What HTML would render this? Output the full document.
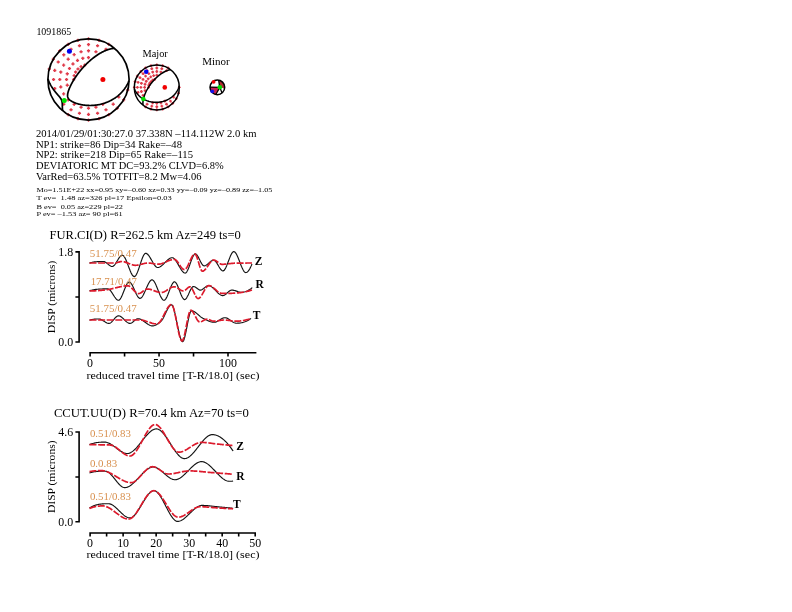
<!DOCTYPE html>
<html><head><meta charset="utf-8"><title>mtinv</title>
<style>
html,body{margin:0;padding:0;background:#fff;}
body{width:792px;height:612px;overflow:hidden;}
svg{position:absolute;left:0;top:0;display:block;will-change:transform;}
text{font-family:"Liberation Serif", serif;}
</style></head><body>
<svg width="792" height="612" viewBox="0 0 792 612">
<text x="36.40" y="34.60" font-size="11.00" fill="#000" font-weight="normal" text-anchor="start" textLength="34.80" lengthAdjust="spacingAndGlyphs">1091865</text>
<text x="142.50" y="56.50" font-size="9.80" fill="#000" font-weight="normal" text-anchor="start" textLength="25.30" lengthAdjust="spacingAndGlyphs">Major</text>
<text x="202.20" y="65.00" font-size="9.60" fill="#000" font-weight="normal" text-anchor="start" textLength="27.50" lengthAdjust="spacingAndGlyphs">Minor</text>
<circle cx="88.50" cy="79.50" r="40.60" fill="#fff" stroke="none"/>
<path d="M72.04 79.50h3.20M73.64 77.90v3.20M72.55 75.65h3.20M74.15 74.05v3.20M74.03 72.07h3.20M75.63 70.47v3.20M76.39 68.99h3.20M77.99 67.39v3.20M79.47 66.63h3.20M81.07 65.03v3.20M83.05 65.15h3.20M84.65 63.55v3.20M86.90 57.53h3.20M88.50 55.93v3.20M65.68 85.19h3.20M67.28 83.59v3.20M64.93 79.50h3.20M66.53 77.90v3.20M65.68 73.81h3.20M67.28 72.21v3.20M67.87 68.51h3.20M69.47 66.91v3.20M71.36 63.96h3.20M72.96 62.36v3.20M75.91 60.47h3.20M77.51 58.87v3.20M81.21 58.28h3.20M82.81 56.68v3.20M86.90 50.79h3.20M88.50 49.19v3.20M94.33 51.77h3.20M95.93 50.17v3.20M101.25 104.36h3.20M102.85 102.76v3.20M94.33 107.23h3.20M95.93 105.63v3.20M86.90 108.21h3.20M88.50 106.61v3.20M79.47 107.23h3.20M81.07 105.63v3.20M72.55 104.36h3.20M74.15 102.76v3.20M66.60 99.80h3.20M68.20 98.20v3.20M62.04 93.85h3.20M63.64 92.25v3.20M59.17 86.93h3.20M60.77 85.33v3.20M58.19 79.50h3.20M59.79 77.90v3.20M59.17 72.07h3.20M60.77 70.47v3.20M62.04 65.15h3.20M63.64 63.55v3.20M66.60 59.20h3.20M68.20 57.60v3.20M72.55 54.64h3.20M74.15 53.04v3.20M79.47 51.77h3.20M81.07 50.17v3.20M86.90 44.55h3.20M88.50 42.95v3.20M95.95 45.74h3.20M97.55 44.14v3.20M104.38 49.23h3.20M105.98 47.63v3.20M117.17 96.98h3.20M118.77 95.38v3.20M111.62 104.22h3.20M113.22 102.62v3.20M104.38 109.77h3.20M105.98 108.17v3.20M95.95 113.26h3.20M97.55 111.66v3.20M86.90 114.45h3.20M88.50 112.85v3.20M77.85 113.26h3.20M79.45 111.66v3.20M69.42 109.77h3.20M71.02 108.17v3.20M62.18 104.22h3.20M63.78 102.62v3.20M53.14 88.55h3.20M54.74 86.95v3.20M51.95 79.50h3.20M53.55 77.90v3.20M53.14 70.45h3.20M54.74 68.85v3.20M56.63 62.02h3.20M58.23 60.42v3.20M62.18 54.78h3.20M63.78 53.18v3.20M69.42 49.23h3.20M71.02 47.63v3.20M77.85 45.74h3.20M79.45 44.14v3.20M86.90 38.90h3.20M88.50 37.30v3.20M97.41 40.28h3.20M99.01 38.68v3.20M107.20 44.34h3.20M108.80 42.74v3.20M126.12 90.01h3.20M127.72 88.41v3.20M122.06 99.80h3.20M123.66 98.20v3.20M115.61 108.21h3.20M117.21 106.61v3.20M107.20 114.66h3.20M108.80 113.06v3.20M97.41 118.72h3.20M99.01 117.12v3.20M86.90 120.10h3.20M88.50 118.50v3.20M76.39 118.72h3.20M77.99 117.12v3.20M66.60 114.66h3.20M68.20 113.06v3.20M47.68 68.99h3.20M49.28 67.39v3.20M51.74 59.20h3.20M53.34 57.60v3.20M58.19 50.79h3.20M59.79 49.19v3.20M66.60 44.34h3.20M68.20 42.74v3.20M76.39 40.28h3.20M77.99 38.68v3.20" stroke="#e03a4a" stroke-width="1.4" fill="none"/>
<path d="M114.36 48.24 L113.88 48.30 L113.27 48.38 L112.83 48.44 L112.25 48.54 L111.70 48.64 L111.24 48.74 L110.77 48.85 L110.22 48.98 L109.81 49.09 L109.24 49.25 L108.80 49.38 L108.39 49.51 L107.95 49.66 L107.38 49.86 L106.97 50.00 L106.57 50.15 L106.16 50.31 L105.75 50.48 L105.28 50.67 L104.81 50.88 L104.36 51.08 L103.93 51.28 L103.52 51.47 L103.12 51.67 L102.71 51.87 L102.30 52.07 L101.90 52.29 L101.50 52.50 L101.12 52.70 L100.76 52.91 L100.40 53.11 L100.05 53.31 L99.67 53.54 L99.26 53.78 L98.85 54.03 L98.45 54.28 L98.06 54.53 L97.75 54.73 L97.43 54.94 L97.03 55.21 L96.62 55.48 L96.23 55.75 L95.94 55.95 L95.61 56.19 L95.20 56.48 L94.81 56.76 L94.54 56.97 L94.18 57.23 L93.78 57.54 L93.47 57.78 L93.17 58.01 L92.76 58.33 L92.44 58.59 L92.15 58.82 L91.75 59.15 L91.45 59.40 L91.14 59.66 L90.73 60.01 L90.49 60.22 L90.12 60.53 L89.79 60.82 L89.52 61.07 L89.11 61.43 L88.89 61.64 L88.50 61.99 L88.23 62.25 L87.89 62.56 L87.58 62.85 L87.28 63.14 L86.95 63.46 L86.67 63.74 L86.33 64.07 L86.06 64.34 L85.73 64.68 L85.45 64.96 L85.13 65.29 L84.85 65.59 L84.55 65.90 L84.24 66.23 L83.98 66.51 L83.63 66.89 L83.42 67.12 L83.05 67.52 L82.82 67.79 L82.51 68.13 L82.21 68.48 L81.98 68.74 L81.63 69.15 L81.39 69.42 L81.11 69.76 L80.79 70.15 L80.58 70.39 L80.27 70.77 L79.97 71.14 L79.77 71.39 L79.46 71.79 L79.16 72.16 L78.96 72.42 L78.67 72.80 L78.36 73.21 L78.15 73.49 L77.90 73.82 L77.60 74.22 L77.33 74.59 L77.13 74.87 L76.87 75.24 L76.58 75.64 L76.32 76.01 L76.12 76.31 L75.88 76.66 L75.60 77.06 L75.33 77.47 L75.10 77.82 L74.90 78.13 L74.67 78.48 L74.41 78.89 L74.15 79.30 L73.90 79.70 L73.68 80.06 L73.48 80.39 L73.28 80.73 L73.04 81.12 L72.81 81.53 L72.57 81.94 L72.34 82.34 L72.12 82.75 L71.90 83.15 L71.68 83.56 L71.46 83.97 L71.25 84.37 L71.04 84.78 L70.84 85.18 L70.64 85.59 L70.45 86.00 L70.25 86.40 L70.07 86.81 L69.88 87.21 L69.70 87.62 L69.53 88.03 L69.36 88.43 L69.20 88.84 L69.01 89.31 L68.81 89.85 L68.66 90.26 L68.52 90.67 L68.39 91.07 L68.21 91.68 L68.09 92.09 L67.99 92.49 L67.84 93.10 L67.76 93.51 L67.66 94.12 L67.60 94.72 L67.57 95.13 L67.58 95.74 L67.61 96.15 L67.70 96.75 L67.81 97.16 L68.00 97.68 L68.20 98.10 L68.40 98.44 L68.64 98.78 L68.98 99.19 L69.22 99.44 L69.60 99.80 L69.83 100.00 L70.23 100.32 L70.64 100.61 L70.94 100.81 L71.26 101.02 L71.65 101.25 L72.06 101.48 L72.46 101.70 L72.87 101.91 L73.28 102.10 L73.68 102.29 L74.09 102.47 L74.50 102.64 L75.00 102.84 L75.51 103.04 L75.91 103.18 L76.32 103.33 L76.73 103.46 L77.33 103.66 L77.74 103.78 L78.15 103.90 L78.76 104.06 L79.16 104.17 L79.57 104.27 L80.18 104.41 L80.58 104.50 L81.19 104.63 L81.60 104.71 L82.21 104.82 L82.61 104.89 L83.22 104.99 L83.83 105.07 L84.24 105.13 L84.85 105.20 L85.45 105.26 L85.86 105.30 L86.47 105.35 L87.08 105.40 L87.69 105.43 L88.30 105.46 L88.91 105.47 L89.47 105.48 L89.92 105.49 L90.45 105.48 L90.94 105.48 L91.55 105.46 L92.15 105.43 L92.76 105.40 L93.37 105.36 L93.98 105.31 L94.39 105.28 L95.00 105.21 L95.61 105.14 L96.10 105.08 L96.62 105.01 L97.23 104.91 L97.64 104.85 L98.24 104.74 L98.65 104.67 L99.26 104.55 L99.67 104.46 L100.27 104.33 L100.68 104.23 L101.29 104.08 L101.69 103.98 L102.13 103.86 L102.71 103.70 L103.12 103.58 L103.53 103.45 L104.13 103.26 L104.54 103.13 L104.94 102.99 L105.37 102.84 L105.92 102.64 L106.36 102.48 L106.77 102.32 L107.18 102.16 L107.58 101.99 L107.99 101.82 L108.42 101.63 L108.87 101.42 L109.31 101.22 L109.74 101.02 L110.15 100.81 L110.56 100.61 L110.95 100.41 L111.33 100.21 L111.71 100.00 L112.07 99.80 L112.45 99.58 L112.86 99.35 L113.27 99.10 L113.67 98.85 L114.08 98.60 L114.42 98.38 L114.72 98.18 L115.09 97.93 L115.50 97.65 L115.90 97.36 L116.18 97.16 L116.51 96.91 L116.92 96.61 L117.25 96.35 L117.53 96.13 L117.94 95.80 L118.26 95.54 L118.54 95.29 L118.95 94.94 L119.20 94.72 L119.56 94.40 L119.86 94.12 L120.17 93.83 L120.50 93.51 L120.78 93.23 L121.11 92.90 L121.39 92.61 L121.69 92.29 L122.00 91.95 L122.24 91.68 L122.60 91.27 L122.81 91.03 L123.12 90.67 L123.42 90.30 L123.62 90.05 L123.93 89.65 L124.23 89.26 L124.43 88.99 L124.69 88.64 L124.97 88.23 L125.24 87.84 L125.45 87.53 L125.66 87.21 L125.91 86.81 L126.17 86.40 L126.41 86.00 L126.65 85.59 L126.87 85.20 L127.07 84.83 L127.27 84.45 L127.48 84.06 L127.68 83.66 L127.88 83.24 L128.09 82.81 L128.29 82.36 L128.47 81.94 L128.64 81.53 L128.81 81.12 L128.97 80.72M62.57 110.56 L62.52 109.97 L62.48 109.54 L62.45 108.94 L62.41 108.33 L62.39 107.72 L62.37 107.11 L62.35 106.50 L62.33 105.89 L62.31 105.28 L62.30 104.88 L62.28 104.27 L62.24 103.66 L62.19 103.05 L62.13 102.44 L62.07 102.03 L61.95 101.42 L61.86 101.02 L61.70 100.51 L61.52 100.00 L61.34 99.60 L61.14 99.19 L60.91 98.78 L60.69 98.43 L60.49 98.13 L60.23 97.77 L59.93 97.36 L59.67 97.04 L59.44 96.75 L59.10 96.35 L58.86 96.07 L58.58 95.74 L58.25 95.37 L58.05 95.13 L57.69 94.72 L57.44 94.44 L57.16 94.12 L56.83 93.74 L56.63 93.50 L56.29 93.10 L56.02 92.78 L55.78 92.49 L55.45 92.09 L55.21 91.79 L54.96 91.48 L54.64 91.07 L54.40 90.75 L54.17 90.46 L53.87 90.06 L53.58 89.66 L53.38 89.38 L53.14 89.04 L52.86 88.64 L52.59 88.23 L52.37 87.89 L52.16 87.57 L51.94 87.21 L51.69 86.81 L51.44 86.40 L51.21 86.00 L50.97 85.59 L50.75 85.18 L50.54 84.80 L50.34 84.41 L50.13 84.02 L49.93 83.61 L49.73 83.19 L49.52 82.75 L49.34 82.34 L49.16 81.94 L48.99 81.53 L48.82 81.12 L48.66 80.72 L48.50 80.31 L48.31 79.78 L48.14 79.30 L48.00 78.89" stroke="#000" stroke-width="1.70" fill="none" stroke-linejoin="round"/>
<circle cx="88.50" cy="79.50" r="40.60" fill="none" stroke="#000" stroke-width="1.70"/>
<circle cx="69.40" cy="51.19" r="2.50" fill="#0000f0"/>
<circle cx="102.88" cy="79.50" r="2.50" fill="#f00000"/>
<circle cx="64.27" cy="100.56" r="2.50" fill="#00e000"/>
<circle cx="156.80" cy="87.40" r="22.50" fill="#fff" stroke="none"/>
<path d="M147.16 87.40h2.80M148.56 86.00v2.80M147.45 85.27h2.80M148.85 83.87v2.80M148.27 83.28h2.80M149.67 81.88v2.80M149.58 81.58h2.80M150.98 80.18v2.80M151.28 80.27h2.80M152.68 78.87v2.80M153.27 79.45h2.80M154.67 78.05v2.80M155.40 75.22h2.80M156.80 73.82v2.80M143.64 90.55h2.80M145.04 89.15v2.80M143.22 87.40h2.80M144.62 86.00v2.80M143.64 84.25h2.80M145.04 82.85v2.80M144.85 81.31h2.80M146.25 79.91v2.80M146.79 78.79h2.80M148.19 77.39v2.80M149.31 76.85h2.80M150.71 75.45v2.80M152.25 75.64h2.80M153.65 74.24v2.80M155.40 71.49h2.80M156.80 70.09v2.80M159.52 72.03h2.80M160.92 70.63v2.80M163.35 101.18h2.80M164.75 99.78v2.80M159.52 102.77h2.80M160.92 101.37v2.80M155.40 103.31h2.80M156.80 101.91v2.80M151.28 102.77h2.80M152.68 101.37v2.80M141.62 95.35h2.80M143.02 93.95v2.80M140.03 91.52h2.80M141.43 90.12v2.80M139.49 87.40h2.80M140.89 86.00v2.80M140.03 83.28h2.80M141.43 81.88v2.80M141.62 79.45h2.80M143.02 78.05v2.80M144.15 76.15h2.80M145.55 74.75v2.80M147.45 73.62h2.80M148.85 72.22v2.80M151.28 72.03h2.80M152.68 70.63v2.80M155.40 68.03h2.80M156.80 66.63v2.80M160.41 68.69h2.80M161.81 67.29v2.80M165.09 70.62h2.80M166.49 69.22v2.80M172.18 97.09h2.80M173.58 95.69v2.80M169.10 101.10h2.80M170.50 99.70v2.80M165.09 104.18h2.80M166.49 102.78v2.80M160.41 106.11h2.80M161.81 104.71v2.80M155.40 106.77h2.80M156.80 105.37v2.80M150.39 106.11h2.80M151.79 104.71v2.80M145.71 104.18h2.80M147.11 102.78v2.80M136.69 92.41h2.80M138.09 91.01v2.80M136.03 87.40h2.80M137.43 86.00v2.80M136.69 82.39h2.80M138.09 80.99v2.80M138.62 77.71h2.80M140.02 76.31v2.80M141.70 73.70h2.80M143.10 72.30v2.80M145.71 70.62h2.80M147.11 69.22v2.80M150.39 68.69h2.80M151.79 67.29v2.80M155.40 64.90h2.80M156.80 63.50v2.80M161.22 65.67h2.80M162.62 64.27v2.80M166.65 67.91h2.80M168.05 66.51v2.80M177.90 87.40h2.80M179.30 86.00v2.80M177.13 93.22h2.80M178.53 91.82v2.80M174.89 98.65h2.80M176.29 97.25v2.80M171.31 103.31h2.80M172.71 101.91v2.80M166.65 106.89h2.80M168.05 105.49v2.80M161.22 109.13h2.80M162.62 107.73v2.80M155.40 109.90h2.80M156.80 108.50v2.80M149.58 109.13h2.80M150.98 107.73v2.80M144.15 106.89h2.80M145.55 105.49v2.80M132.90 87.40h2.80M134.30 86.00v2.80M133.67 81.58h2.80M135.07 80.18v2.80M135.91 76.15h2.80M137.31 74.75v2.80M139.49 71.49h2.80M140.89 70.09v2.80M144.15 67.91h2.80M145.55 66.51v2.80M149.58 65.67h2.80M150.98 64.27v2.80" stroke="#e03a4a" stroke-width="1.4" fill="none"/>
<path d="M179.25 85.83 L179.06 86.49 L178.86 87.14 L178.63 87.77 L178.38 88.40 L178.12 89.01 L177.84 89.61 L177.54 90.20 L177.22 90.77 L176.88 91.33 L176.53 91.88 L176.17 92.42 L175.79 92.94 L175.39 93.45 L174.98 93.94 L174.56 94.42 L174.12 94.89 L173.68 95.35 L173.22 95.79 L172.75 96.21 L172.26 96.63 L171.77 97.03 L171.27 97.41 L170.76 97.78 L170.24 98.14 L169.71 98.48 L169.17 98.81 L168.62 99.13 L168.07 99.43 L167.50 99.71 L166.94 99.98 L166.36 100.24 L165.78 100.48 L165.19 100.71 L164.60 100.92 L164.01 101.12 L163.40 101.31 L162.80 101.48 L162.19 101.63 L161.58 101.77 L160.96 101.90 L160.34 102.01 L159.72 102.10 L159.09 102.18 L158.47 102.25 L157.84 102.30 L157.21 102.34 L156.59 102.36 L155.96 102.37 L155.33 102.36 L154.70 102.33 L154.07 102.30 L153.44 102.24 L152.82 102.17 L152.20 102.09 L151.57 101.99 L150.96 101.88 L150.34 101.75 L149.73 101.61 L149.12 101.45 L148.51 101.27 L147.91 101.08 L147.32 100.88 L146.73 100.66 L146.14 100.42 L145.56 100.17 L144.99 99.91 L144.42 99.62 L143.86 99.33 L143.31 99.02 L142.77 98.69 L142.24 98.35 L141.71 97.99 L141.19 97.62 L140.69 97.23 L140.19 96.83 L139.71 96.41 L139.23 95.97 L138.77 95.53 L138.32 95.06 L137.88 94.58 L137.46 94.09 L137.05 93.58 L136.66 93.05 L136.28 92.51 L135.91 91.96 L135.57 91.39 L135.24 90.81 L134.92 90.21 L134.63 89.60 L134.35 88.97" stroke="#000" stroke-width="1.50" fill="none"/>
<path d="M142.95 105.13 L142.91 104.64 L142.89 104.16 L142.88 103.67 L142.89 103.18 L142.91 102.69 L142.94 102.19 L142.99 101.70 L143.04 101.20 L143.11 100.71 L143.19 100.21 L143.28 99.71 L143.38 99.21 L143.49 98.71 L143.61 98.21 L143.74 97.71 L143.88 97.21 L144.03 96.71 L144.19 96.21 L144.36 95.71 L144.54 95.21 L144.72 94.71 L144.92 94.21 L145.12 93.71 L145.33 93.21 L145.55 92.71 L145.78 92.21 L146.01 91.72 L146.25 91.22 L146.50 90.73 L146.76 90.24 L147.02 89.75 L147.29 89.26 L147.57 88.78 L147.85 88.29 L148.14 87.81 L148.44 87.33 L148.74 86.86 L149.05 86.39 L149.37 85.91 L149.69 85.45 L150.01 84.98 L150.35 84.52 L150.68 84.06 L151.03 83.61 L151.37 83.16 L151.73 82.71 L152.08 82.27 L152.45 81.83 L152.81 81.40 L153.18 80.97 L153.56 80.55 L153.94 80.13 L154.33 79.71 L154.71 79.30 L155.11 78.90 L155.50 78.50 L155.90 78.11 L156.31 77.72 L156.72 77.34 L157.13 76.97 L157.54 76.60 L157.96 76.24 L158.38 75.89 L158.80 75.54 L159.23 75.20 L159.66 74.87 L160.09 74.54 L160.53 74.22 L160.97 73.91 L161.41 73.61 L161.85 73.32 L162.29 73.03 L162.74 72.76 L163.19 72.49 L163.64 72.23 L164.10 71.99 L164.55 71.75 L165.01 71.52 L165.47 71.30 L165.93 71.09 L166.40 70.90 L166.86 70.71 L167.33 70.54 L167.80 70.37 L168.27 70.22 L168.74 70.09 L169.22 69.96 L169.69 69.85 L170.17 69.75 L170.65 69.67" stroke="#000" stroke-width="1.50" fill="none"/>
<circle cx="156.80" cy="87.40" r="22.50" fill="none" stroke="#000" stroke-width="1.50"/>
<circle cx="146.22" cy="71.71" r="2.30" fill="#0000f0"/>
<circle cx="164.77" cy="87.40" r="2.30" fill="#f00000"/>
<circle cx="143.37" cy="99.07" r="2.30" fill="#00e000"/>
<g>
<circle cx="217.35" cy="87.30" r="7.35" fill="#fff"/>
<path d="M219.80 87.30 L218.63 80.06 A7.35 7.35 0 0 1 224.59 88.58 Z" fill="#b02c34"/>
<path d="M210.00 87.04 L219.80 87.30 L215.82 94.49 A7.35 7.35 0 0 1 210.00 87.04 Z" fill="#c81e50"/>
<path d="M218.63 80.06 L219.80 87.30 L215.82 94.49 M210.00 87.04 L219.80 87.30 M219.80 87.30 L222.07 92.93" stroke="#000" stroke-width="1.3" fill="none"/>
<circle cx="217.35" cy="87.30" r="7.35" fill="none" stroke="#000" stroke-width="1.5"/>
<circle cx="213.6" cy="81.8" r="1.9" fill="#f00000"/>
<circle cx="212.2" cy="91.3" r="1.9" fill="#1010e8"/>
<circle cx="219.80" cy="87.30" r="2.3" fill="#00e000"/>
</g>
<text x="35.90" y="137.30" font-size="9.60" fill="#000" font-weight="normal" text-anchor="start" textLength="220.60" lengthAdjust="spacingAndGlyphs">2014/01/29/01:30:27.0 37.338N &#8211;114.112W 2.0 km</text>
<text x="35.90" y="147.70" font-size="9.60" fill="#000" font-weight="normal" text-anchor="start" textLength="146.10" lengthAdjust="spacingAndGlyphs">NP1: strike=86 Dip=34 Rake=&#8211;48</text>
<text x="35.90" y="157.80" font-size="9.60" fill="#000" font-weight="normal" text-anchor="start" textLength="157.10" lengthAdjust="spacingAndGlyphs">NP2: strike=218 Dip=65 Rake=&#8211;115</text>
<text x="35.90" y="169.00" font-size="9.60" fill="#000" font-weight="normal" text-anchor="start" textLength="187.80" lengthAdjust="spacingAndGlyphs">DEVIATORIC MT DC=93.2% CLVD=6.8%</text>
<text x="35.90" y="179.70" font-size="9.60" fill="#000" font-weight="normal" text-anchor="start" textLength="165.50" lengthAdjust="spacingAndGlyphs">VarRed=63.5% TOTFIT=8.2 Mw=4.06</text>
<text x="36.50" y="192.20" font-size="6.90" fill="#000" font-weight="normal" text-anchor="start" textLength="235.80" lengthAdjust="spacingAndGlyphs" xml:space="preserve">Mo=1.51E+22 xx=0.95 xy=&#8211;0.60 xz=0.33 yy=&#8211;0.09 yz=&#8211;0.89 zz=&#8211;1.05</text>
<text x="36.50" y="200.00" font-size="6.90" fill="#000" font-weight="normal" text-anchor="start" textLength="135.30" lengthAdjust="spacingAndGlyphs" xml:space="preserve">T ev=  1.48 az=326 pl=17 Epsilon=0.03</text>
<text x="36.50" y="208.80" font-size="6.90" fill="#000" font-weight="normal" text-anchor="start" textLength="86.40" lengthAdjust="spacingAndGlyphs" xml:space="preserve">B ev=  0.05 az=229 pl=22</text>
<text x="36.50" y="215.70" font-size="6.90" fill="#000" font-weight="normal" text-anchor="start" textLength="86.10" lengthAdjust="spacingAndGlyphs" xml:space="preserve">P ev= &#8211;1.53 az= 90 pl=61</text>
<text x="49.50" y="239.40" font-size="12.00" fill="#000" font-weight="normal" text-anchor="start" textLength="191.30" lengthAdjust="spacingAndGlyphs">FUR.CI(D) R=262.5 km Az=249 ts=0</text>
<path d="M79.10 251.10 V342.80 M75.4 251.90 H79.10 M75.4 297.00 H79.10 M75.4 342.00 H79.10" stroke="#000" stroke-width="1.6" fill="none"/>
<text x="73.20" y="255.70" font-size="11.90" fill="#000" font-weight="normal" text-anchor="end">1.8</text>
<text x="73.20" y="345.60" font-size="11.90" fill="#000" font-weight="normal" text-anchor="end">0.0</text>
<text transform="translate(55.20 333.30) rotate(-90)" font-size="11" textLength="72.60" lengthAdjust="spacingAndGlyphs">DISP (microns)</text>
<path d="M89.30 352.80 H256.40 M90.10 352.80 V356.40M124.57 352.80 V356.40M159.05 352.80 V356.40M193.53 352.80 V356.40M228.00 352.80 V356.40" stroke="#000" stroke-width="1.6" fill="none"/>
<text x="90.10" y="366.60" font-size="11.90" fill="#000" font-weight="normal" text-anchor="middle">0</text>
<text x="159.05" y="366.60" font-size="11.90" fill="#000" font-weight="normal" text-anchor="middle">50</text>
<text x="228.00" y="366.60" font-size="11.90" fill="#000" font-weight="normal" text-anchor="middle">100</text>
<text x="86.50" y="378.50" font-size="11.20" fill="#000" font-weight="normal" text-anchor="start" textLength="173.00" lengthAdjust="spacingAndGlyphs">reduced travel time [T-R/18.0] (sec)</text>
<path d="M89.50 263.10 L90.20 262.87 L90.90 262.66 L91.60 262.48 L92.30 262.31 L93.00 262.17 L93.70 262.04 L94.40 261.93 L95.10 261.84 L95.80 261.76 L96.50 261.70 L97.20 261.64 L97.90 261.60 L98.60 261.57 L99.30 261.54 L100.00 261.52 L100.70 261.51 L101.40 261.50 L102.10 261.50 L102.80 261.50 L103.50 261.50 L104.20 261.62 L104.90 261.89 L105.60 262.28 L106.30 262.77 L107.00 263.33 L107.70 263.91 L108.40 264.51 L109.10 265.08 L109.80 265.59 L110.50 266.01 L111.20 266.32 L111.90 266.48 L112.60 266.45 L113.30 266.13 L114.00 265.55 L114.70 264.77 L115.40 263.82 L116.10 262.75 L116.80 261.60 L117.50 260.43 L118.20 259.27 L118.90 258.18 L119.60 257.19 L120.30 256.35 L121.00 255.71 L121.70 255.31 L122.40 255.20 L123.10 255.47 L123.80 256.12 L124.50 257.09 L125.20 258.35 L125.90 259.82 L126.60 261.47 L127.30 263.25 L128.00 265.10 L128.70 266.97 L129.40 268.81 L130.10 270.57 L130.80 272.20 L131.50 273.65 L132.20 274.86 L132.90 275.79 L133.60 276.39 L134.30 276.60 L135.00 276.35 L135.70 275.63 L136.40 274.52 L137.10 273.07 L137.80 271.36 L138.50 269.44 L139.20 267.39 L139.90 265.26 L140.60 263.12 L141.30 261.03 L142.00 259.07 L142.70 257.29 L143.40 255.76 L144.10 254.55 L144.80 253.71 L145.50 253.32 L146.20 253.37 L146.90 253.70 L147.60 254.26 L148.30 255.01 L149.00 255.93 L149.70 256.98 L150.40 258.13 L151.10 259.34 L151.80 260.58 L152.50 261.81 L153.20 263.01 L153.90 264.13 L154.60 265.15 L155.30 266.02 L156.00 266.73 L156.70 267.22 L157.40 267.47 L158.10 267.48 L158.80 267.34 L159.50 267.08 L160.20 266.73 L160.90 266.28 L161.60 265.75 L162.30 265.17 L163.00 264.53 L163.70 263.85 L164.40 263.16 L165.10 262.45 L165.80 261.74 L166.50 261.05 L167.20 260.39 L167.90 259.77 L168.60 259.21 L169.30 258.72 L170.00 258.31 L170.70 257.99 L171.40 257.79 L172.10 257.70 L172.80 257.80 L173.50 258.13 L174.20 258.68 L174.90 259.42 L175.60 260.31 L176.30 261.33 L177.00 262.45 L177.70 263.64 L178.40 264.87 L179.10 266.11 L179.80 267.34 L180.50 268.52 L181.20 269.62 L181.90 270.63 L182.60 271.50 L183.30 272.21 L184.00 272.73 L184.70 273.03 L185.40 273.08 L186.10 272.67 L186.80 271.81 L187.50 270.57 L188.20 269.02 L188.90 267.26 L189.60 265.34 L190.30 263.36 L191.00 261.38 L191.70 259.48 L192.40 257.74 L193.10 256.24 L193.80 255.04 L194.50 254.24 L195.20 253.91 L195.90 254.06 L196.60 254.61 L197.30 255.48 L198.00 256.60 L198.70 257.89 L199.40 259.29 L200.10 260.72 L200.80 262.10 L201.50 263.38 L202.20 264.46 L202.90 265.29 L203.60 265.79 L204.30 265.89 L205.00 265.76 L205.70 265.47 L206.40 265.06 L207.10 264.55 L207.80 263.98 L208.50 263.36 L209.20 262.74 L209.90 262.12 L210.60 261.55 L211.30 261.04 L212.00 260.63 L212.70 260.34 L213.40 260.21 L214.10 260.29 L214.80 260.68 L215.50 261.33 L216.20 262.20 L216.90 263.23 L217.60 264.36 L218.30 265.55 L219.00 266.74 L219.70 267.87 L220.40 268.90 L221.10 269.77 L221.80 270.42 L222.50 270.81 L223.20 270.88 L223.90 270.52 L224.60 269.75 L225.30 268.65 L226.00 267.26 L226.70 265.66 L227.40 263.90 L228.10 262.05 L228.80 260.18 L229.50 258.34 L230.20 256.60 L230.90 255.03 L231.60 253.68 L232.30 252.61 L233.00 251.90 L233.70 251.60 L234.40 251.75 L235.10 252.29 L235.80 253.16 L236.50 254.31 L237.20 255.70 L237.90 257.28 L238.60 258.99 L239.30 260.79 L240.00 262.62 L240.70 264.44 L241.40 266.20 L242.10 267.84 L242.80 269.32 L243.50 270.58 L244.20 271.58 L244.90 272.26 L245.60 272.58 L246.30 272.53 L247.00 272.22 L247.70 271.66 L248.40 270.89 L249.10 269.90 L249.80 268.73 L250.50 267.38 L251.20 265.88 L251.90 264.24 L252.00 264.00" fill="none" stroke="#141414" stroke-width="1.15" stroke-linejoin="round"/>
<path d="M89.50 263.00 L90.20 263.00 L90.90 263.00 L91.60 263.00 L92.30 263.00 L93.00 263.00 L93.70 263.00 L94.40 263.00 L95.10 263.00 L95.80 263.00 L96.50 263.00 L97.20 263.00 L97.90 263.00 L98.60 263.00 L99.30 263.00 L100.00 263.00 L100.70 263.00 L101.40 263.00 L102.10 263.00 L102.80 263.00 L103.50 263.00 L104.20 263.00 L104.90 263.00 L105.60 263.00 L106.30 263.00 L107.00 263.00 L107.70 263.00 L108.40 263.00 L109.10 263.00 L109.80 263.00 L110.50 263.00 L111.20 263.00 L111.90 263.00 L112.60 263.00 L113.30 263.00 L114.00 263.00 L114.70 263.00 L115.40 262.98 L116.10 262.89 L116.80 262.73 L117.50 262.53 L118.20 262.30 L118.90 262.07 L119.60 261.85 L120.30 261.67 L121.00 261.55 L121.70 261.50 L122.40 261.53 L123.10 261.61 L123.80 261.73 L124.50 261.90 L125.20 262.10 L125.90 262.33 L126.60 262.58 L127.30 262.85 L128.00 263.13 L128.70 263.42 L129.40 263.71 L130.10 263.99 L130.80 264.25 L131.50 264.50 L132.20 264.73 L132.90 264.93 L133.60 265.09 L134.30 265.21 L135.00 265.28 L135.70 265.30 L136.40 265.27 L137.10 265.21 L137.80 265.11 L138.50 264.98 L139.20 264.83 L139.90 264.66 L140.60 264.48 L141.30 264.29 L142.00 264.09 L142.70 263.90 L143.40 263.71 L144.10 263.54 L144.80 263.38 L145.50 263.24 L146.20 263.13 L146.90 263.05 L147.60 263.01 L148.30 263.00 L149.00 263.03 L149.70 263.09 L150.40 263.17 L151.10 263.27 L151.80 263.39 L152.50 263.51 L153.20 263.64 L153.90 263.76 L154.60 263.88 L155.30 263.98 L156.00 264.08 L156.70 264.14 L157.40 264.19 L158.10 264.20 L158.80 264.17 L159.50 264.09 L160.20 263.96 L160.90 263.80 L161.60 263.60 L162.30 263.37 L163.00 263.12 L163.70 262.85 L164.40 262.56 L165.10 262.26 L165.80 261.95 L166.50 261.65 L167.20 261.34 L167.90 261.04 L168.60 260.75 L169.30 260.48 L170.00 260.23 L170.70 260.00 L171.40 259.80 L172.10 259.64 L172.80 259.51 L173.50 259.43 L174.20 259.40 L174.90 259.50 L175.60 259.86 L176.30 260.44 L177.00 261.20 L177.70 262.09 L178.40 263.08 L179.10 264.12 L179.80 265.18 L180.50 266.21 L181.20 267.18 L181.90 268.03 L182.60 268.74 L183.30 269.26 L184.00 269.55 L184.70 269.56 L185.40 269.20 L186.10 268.51 L186.80 267.53 L187.50 266.32 L188.20 264.95 L188.90 263.46 L189.60 261.91 L190.30 260.36 L191.00 258.86 L191.70 257.46 L192.40 256.23 L193.10 255.22 L193.80 254.48 L194.50 254.07 L195.20 254.08 L195.90 254.84 L196.60 256.25 L197.30 258.16 L198.00 260.39 L198.70 262.77 L199.40 265.15 L200.10 267.34 L200.80 269.19 L201.50 270.52 L202.20 271.16 L202.90 271.14 L203.60 270.85 L204.30 270.36 L205.00 269.69 L205.70 268.89 L206.40 267.98 L207.10 267.00 L207.80 265.97 L208.50 264.93 L209.20 263.91 L209.90 262.95 L210.60 262.07 L211.30 261.30 L212.00 260.68 L212.70 260.25 L213.40 260.02 L214.10 260.03 L214.80 260.21 L215.50 260.52 L216.20 260.94 L216.90 261.42 L217.60 261.96 L218.30 262.50 L219.00 263.02 L219.70 263.49 L220.40 263.88 L221.10 264.16 L221.80 264.29 L222.50 264.30 L223.20 264.28 L223.90 264.24 L224.60 264.19 L225.30 264.14 L226.00 264.07 L226.70 264.00 L227.40 263.92 L228.10 263.83 L228.80 263.75 L229.50 263.66 L230.20 263.58 L230.90 263.50 L231.60 263.43 L232.30 263.36 L233.00 263.30 L233.70 263.25 L234.40 263.22 L235.10 263.20 L235.80 263.18 L236.50 263.17 L237.20 263.16 L237.90 263.14 L238.60 263.13 L239.30 263.12 L240.00 263.11 L240.70 263.09 L241.40 263.08 L242.10 263.07 L242.80 263.06 L243.50 263.05 L244.20 263.05 L244.90 263.04 L245.60 263.03 L246.30 263.03 L247.00 263.02 L247.70 263.01 L248.40 263.01 L249.10 263.01 L249.80 263.00 L250.50 263.00 L251.20 263.00 L251.90 263.00 L252.00 263.00" fill="none" stroke="#dc1a2c" stroke-width="1.70" stroke-dasharray="7 1.6" stroke-linejoin="round"/>
<path d="M89.50 290.80 L90.20 290.59 L90.90 290.40 L91.60 290.22 L92.30 290.05 L93.00 289.91 L93.70 289.77 L94.40 289.65 L95.10 289.54 L95.80 289.44 L96.50 289.35 L97.20 289.27 L97.90 289.20 L98.60 289.14 L99.30 289.09 L100.00 289.05 L100.70 289.01 L101.40 288.98 L102.10 288.96 L102.80 288.94 L103.50 288.92 L104.20 288.91 L104.90 288.91 L105.60 288.90 L106.30 288.90 L107.00 288.90 L107.70 288.90 L108.40 289.00 L109.10 289.36 L109.80 289.95 L110.50 290.71 L111.20 291.62 L111.90 292.64 L112.60 293.72 L113.30 294.84 L114.00 295.95 L114.70 297.01 L115.40 297.98 L116.10 298.84 L116.80 299.53 L117.50 300.02 L118.20 300.27 L118.90 300.23 L119.60 299.76 L120.30 298.92 L121.00 297.77 L121.70 296.37 L122.40 294.78 L123.10 293.06 L123.80 291.28 L124.50 289.49 L125.20 287.76 L125.90 286.15 L126.60 284.72 L127.30 283.53 L128.00 282.64 L128.70 282.12 L129.40 282.02 L130.10 282.32 L130.80 282.97 L131.50 283.91 L132.20 285.09 L132.90 286.46 L133.60 287.95 L134.30 289.52 L135.00 291.11 L135.70 292.67 L136.40 294.15 L137.10 295.49 L137.80 296.64 L138.50 297.54 L139.20 298.14 L139.90 298.40 L140.60 298.27 L141.30 297.79 L142.00 297.02 L142.70 296.00 L143.40 294.77 L144.10 293.37 L144.80 291.85 L145.50 290.26 L146.20 288.64 L146.90 287.02 L147.60 285.47 L148.30 284.01 L149.00 282.71 L149.70 281.59 L150.40 280.70 L151.10 280.10 L151.80 279.82 L152.50 279.90 L153.20 280.37 L153.90 281.18 L154.60 282.27 L155.30 283.60 L156.00 285.11 L156.70 286.77 L157.40 288.52 L158.10 290.31 L158.80 292.09 L159.50 293.81 L160.20 295.43 L160.90 296.90 L161.60 298.17 L162.30 299.18 L163.00 299.90 L163.70 300.26 L164.40 300.22 L165.10 299.73 L165.80 298.86 L166.50 297.65 L167.20 296.19 L167.90 294.54 L168.60 292.76 L169.30 290.92 L170.00 289.08 L170.70 287.32 L171.40 285.69 L172.10 284.26 L172.80 283.10 L173.50 282.27 L174.20 281.84 L174.90 281.88 L175.60 282.39 L176.30 283.29 L177.00 284.53 L177.70 286.03 L178.40 287.71 L179.10 289.51 L179.80 291.36 L180.50 293.18 L181.20 294.91 L181.90 296.46 L182.60 297.78 L183.30 298.79 L184.00 299.42 L184.70 299.60 L185.40 299.30 L186.10 298.61 L186.80 297.59 L187.50 296.33 L188.20 294.90 L188.90 293.38 L189.60 291.84 L190.30 290.36 L191.00 289.02 L191.70 287.89 L192.40 287.05 L193.10 286.58 L193.80 286.52 L194.50 286.70 L195.20 287.05 L195.90 287.50 L196.60 288.03 L197.30 288.57 L198.00 289.10 L198.70 289.55 L199.40 289.90 L200.10 290.08 L200.80 290.07 L201.50 289.87 L202.20 289.53 L202.90 289.08 L203.60 288.55 L204.30 287.97 L205.00 287.39 L205.70 286.84 L206.40 286.35 L207.10 285.96 L207.80 285.70 L208.50 285.60 L209.20 285.67 L209.90 285.87 L210.60 286.18 L211.30 286.60 L212.00 287.10 L212.70 287.68 L213.40 288.32 L214.10 289.00 L214.80 289.71 L215.50 290.44 L216.20 291.18 L216.90 291.90 L217.60 292.59 L218.30 293.25 L219.00 293.86 L219.70 294.39 L220.40 294.85 L221.10 295.21 L221.80 295.46 L222.50 295.59 L223.20 295.57 L223.90 295.37 L224.60 295.03 L225.30 294.56 L226.00 294.01 L226.70 293.40 L227.40 292.76 L228.10 292.12 L228.80 291.53 L229.50 290.99 L230.20 290.56 L230.90 290.25 L231.60 290.11 L232.30 290.12 L233.00 290.19 L233.70 290.31 L234.40 290.48 L235.10 290.67 L235.80 290.89 L236.50 291.12 L237.20 291.35 L237.90 291.58 L238.60 291.79 L239.30 291.97 L240.00 292.13 L240.70 292.24 L241.40 292.29 L242.10 292.29 L242.80 292.24 L243.50 292.14 L244.20 291.99 L244.90 291.80 L245.60 291.57 L246.30 291.30 L247.00 290.99 L247.70 290.65 L248.40 290.27 L249.10 289.85 L249.80 289.41 L250.50 288.94 L251.20 288.44 L251.90 287.91 L252.30 287.60" fill="none" stroke="#141414" stroke-width="1.15" stroke-linejoin="round"/>
<path d="M89.50 291.00 L90.20 290.99 L90.90 290.97 L91.60 290.95 L92.30 290.92 L93.00 290.89 L93.70 290.86 L94.40 290.82 L95.10 290.78 L95.80 290.74 L96.50 290.70 L97.20 290.65 L97.90 290.60 L98.60 290.55 L99.30 290.49 L100.00 290.44 L100.70 290.38 L101.40 290.32 L102.10 290.26 L102.80 290.20 L103.50 290.14 L104.20 290.07 L104.90 290.01 L105.60 289.94 L106.30 289.85 L107.00 289.76 L107.70 289.65 L108.40 289.52 L109.10 289.39 L109.80 289.25 L110.50 289.10 L111.20 288.94 L111.90 288.78 L112.60 288.61 L113.30 288.44 L114.00 288.27 L114.70 288.09 L115.40 287.91 L116.10 287.73 L116.80 287.56 L117.50 287.39 L118.20 287.22 L118.90 287.05 L119.60 286.89 L120.30 286.74 L121.00 286.59 L121.70 286.46 L122.40 286.33 L123.10 286.21 L123.80 286.11 L124.50 286.02 L125.20 285.94 L125.90 285.88 L126.60 285.84 L127.30 285.81 L128.00 285.80 L128.70 285.90 L129.40 286.18 L130.10 286.61 L130.80 287.17 L131.50 287.82 L132.20 288.55 L132.90 289.31 L133.60 290.09 L134.30 290.85 L135.00 291.58 L135.70 292.23 L136.40 292.79 L137.10 293.22 L137.80 293.50 L138.50 293.60 L139.20 293.52 L139.90 293.29 L140.60 292.95 L141.30 292.52 L142.00 292.03 L142.70 291.49 L143.40 290.95 L144.10 290.43 L144.80 289.95 L145.50 289.54 L146.20 289.23 L146.90 289.04 L147.60 289.00 L148.30 289.04 L149.00 289.13 L149.70 289.26 L150.40 289.42 L151.10 289.62 L151.80 289.84 L152.50 290.08 L153.20 290.34 L153.90 290.60 L154.60 290.86 L155.30 291.13 L156.00 291.38 L156.70 291.63 L157.40 291.85 L158.10 292.05 L158.80 292.22 L159.50 292.35 L160.20 292.45 L160.90 292.50 L161.60 292.48 L162.30 292.39 L163.00 292.21 L163.70 291.96 L164.40 291.65 L165.10 291.29 L165.80 290.89 L166.50 290.46 L167.20 290.01 L167.90 289.55 L168.60 289.10 L169.30 288.66 L170.00 288.24 L170.70 287.85 L171.40 287.51 L172.10 287.23 L172.80 287.01 L173.50 286.86 L174.20 286.80 L174.90 286.85 L175.60 287.03 L176.30 287.31 L177.00 287.67 L177.70 288.09 L178.40 288.55 L179.10 289.02 L179.80 289.48 L180.50 289.92 L181.20 290.30 L181.90 290.60 L182.60 290.81 L183.30 290.90 L184.00 290.80 L184.70 290.49 L185.40 290.00 L186.10 289.40 L186.80 288.76 L187.50 288.12 L188.20 287.55 L188.90 287.10 L189.60 286.84 L190.30 286.85 L191.00 287.30 L191.70 288.14 L192.40 289.29 L193.10 290.66 L193.80 292.15 L194.50 293.68 L195.20 295.15 L195.90 296.46 L196.60 297.54 L197.30 298.28 L198.00 298.59 L198.70 298.48 L199.40 298.07 L200.10 297.41 L200.80 296.53 L201.50 295.50 L202.20 294.34 L202.90 293.10 L203.60 291.83 L204.30 290.56 L205.00 289.35 L205.70 288.24 L206.40 287.27 L207.10 286.48 L207.80 285.92 L208.50 285.63 L209.20 285.62 L209.90 285.75 L210.60 286.00 L211.30 286.33 L212.00 286.75 L212.70 287.24 L213.40 287.78 L214.10 288.36 L214.80 288.97 L215.50 289.59 L216.20 290.21 L216.90 290.81 L217.60 291.38 L218.30 291.91 L219.00 292.37 L219.70 292.77 L220.40 293.08 L221.10 293.30 L221.80 293.39 L222.50 293.40 L223.20 293.40 L223.90 293.40 L224.60 293.40 L225.30 293.40 L226.00 293.39 L226.70 293.39 L227.40 293.38 L228.10 293.37 L228.80 293.36 L229.50 293.35 L230.20 293.33 L230.90 293.31 L231.60 293.29 L232.30 293.26 L233.00 293.23 L233.70 293.20 L234.40 293.16 L235.10 293.12 L235.80 293.07 L236.50 293.02 L237.20 292.96 L237.90 292.89 L238.60 292.82 L239.30 292.75 L240.00 292.67 L240.70 292.58 L241.40 292.48 L242.10 292.38 L242.80 292.27 L243.50 292.15 L244.20 292.02 L244.90 291.89 L245.60 291.74 L246.30 291.59 L247.00 291.43 L247.70 291.26 L248.40 291.08 L249.10 290.89 L249.80 290.69 L250.50 290.48 L251.20 290.26 L251.90 290.03 L252.00 290.00" fill="none" stroke="#dc1a2c" stroke-width="1.70" stroke-dasharray="7 1.6" stroke-linejoin="round"/>
<path d="M89.50 320.30 L90.20 320.03 L90.90 319.80 L91.60 319.61 L92.30 319.45 L93.00 319.32 L93.70 319.22 L94.40 319.14 L95.10 319.09 L95.80 319.05 L96.50 319.02 L97.20 319.01 L97.90 319.00 L98.60 319.00 L99.30 319.02 L100.00 319.15 L100.70 319.37 L101.40 319.68 L102.10 320.05 L102.80 320.46 L103.50 320.91 L104.20 321.36 L104.90 321.81 L105.60 322.24 L106.30 322.62 L107.00 322.95 L107.70 323.20 L108.40 323.36 L109.10 323.40 L109.80 323.25 L110.50 322.89 L111.20 322.37 L111.90 321.71 L112.60 320.95 L113.30 320.14 L114.00 319.30 L114.70 318.48 L115.40 317.70 L116.10 317.01 L116.80 316.44 L117.50 316.03 L118.20 315.82 L118.90 315.83 L119.60 316.00 L120.30 316.31 L121.00 316.74 L121.70 317.26 L122.40 317.86 L123.10 318.51 L123.80 319.20 L124.50 319.90 L125.20 320.59 L125.90 321.25 L126.60 321.86 L127.30 322.39 L128.00 322.84 L128.70 323.17 L129.40 323.36 L130.10 323.39 L130.80 323.24 L131.50 322.92 L132.20 322.48 L132.90 321.94 L133.60 321.35 L134.30 320.75 L135.00 320.16 L135.70 319.62 L136.40 319.18 L137.10 318.86 L137.80 318.71 L138.50 318.72 L139.20 318.84 L139.90 319.03 L140.60 319.30 L141.30 319.64 L142.00 320.03 L142.70 320.46 L143.40 320.93 L144.10 321.42 L144.80 321.93 L145.50 322.45 L146.20 322.96 L146.90 323.46 L147.60 323.95 L148.30 324.39 L149.00 324.80 L149.70 325.16 L150.40 325.46 L151.10 325.69 L151.80 325.84 L152.50 325.90 L153.20 325.86 L153.90 325.74 L154.60 325.53 L155.30 325.25 L156.00 324.90 L156.70 324.50 L157.40 324.05 L158.10 323.57 L158.80 323.05 L159.50 322.52 L160.20 321.97 L160.90 321.42 L161.60 320.70 L162.30 319.74 L163.00 318.59 L163.70 317.28 L164.40 315.86 L165.10 314.37 L165.80 312.86 L166.50 311.36 L167.20 309.92 L167.90 308.57 L168.60 307.37 L169.30 306.35 L170.00 305.55 L170.70 305.02 L171.40 304.80 L172.10 305.11 L172.80 306.20 L173.50 307.96 L174.20 310.29 L174.90 313.07 L175.60 316.18 L176.30 319.53 L177.00 323.00 L177.70 326.48 L178.40 329.85 L179.10 333.01 L179.80 335.84 L180.50 338.24 L181.20 340.09 L181.90 341.28 L182.60 341.70 L183.30 341.16 L184.00 339.65 L184.70 337.35 L185.40 334.45 L186.10 331.12 L186.80 327.55 L187.50 323.91 L188.20 320.39 L188.90 317.17 L189.60 314.42 L190.30 312.33 L191.00 311.08 L191.70 310.81 L192.40 310.90 L193.10 311.11 L193.80 311.41 L194.50 311.80 L195.20 312.26 L195.90 312.77 L196.60 313.34 L197.30 313.93 L198.00 314.54 L198.70 315.16 L199.40 315.77 L200.10 316.36 L200.80 316.92 L201.50 317.43 L202.20 317.88 L202.90 318.25 L203.60 318.58 L204.30 318.92 L205.00 319.26 L205.70 319.60 L206.40 319.94 L207.10 320.28 L207.80 320.60 L208.50 320.90 L209.20 321.19 L209.90 321.45 L210.60 321.69 L211.30 321.89 L212.00 322.06 L212.70 322.18 L213.40 322.27 L214.10 322.30 L214.80 322.26 L215.50 322.11 L216.20 321.88 L216.90 321.57 L217.60 321.20 L218.30 320.79 L219.00 320.35 L219.70 319.90 L220.40 319.46 L221.10 319.03 L221.80 318.63 L222.50 318.29 L223.20 318.01 L223.90 317.81 L224.60 317.71 L225.30 317.72 L226.00 317.84 L226.70 318.07 L227.40 318.38 L228.10 318.76 L228.80 319.19 L229.50 319.66 L230.20 320.16 L230.90 320.67 L231.60 321.17 L232.30 321.64 L233.00 322.08 L233.70 322.47 L234.40 322.79 L235.10 323.03 L235.80 323.17 L236.50 323.20 L237.20 323.19 L237.90 323.16 L238.60 323.12 L239.30 323.06 L240.00 322.99 L240.70 322.89 L241.40 322.77 L242.10 322.63 L242.80 322.47 L243.50 322.28 L244.20 322.07 L244.90 321.83 L245.60 321.56 L246.30 321.26 L247.00 320.93 L247.70 320.57 L248.40 320.18 L249.10 319.75 L249.80 319.28 L250.50 318.78 L251.00 318.40" fill="none" stroke="#141414" stroke-width="1.15" stroke-linejoin="round"/>
<path d="M89.50 320.00 L90.20 320.00 L90.90 320.00 L91.60 320.00 L92.30 320.00 L93.00 320.00 L93.70 320.00 L94.40 320.00 L95.10 320.00 L95.80 320.00 L96.50 320.00 L97.20 320.00 L97.90 320.00 L98.60 320.00 L99.30 320.00 L100.00 320.00 L100.70 320.00 L101.40 320.00 L102.10 320.00 L102.80 320.00 L103.50 320.00 L104.20 320.00 L104.90 320.00 L105.60 320.00 L106.30 320.00 L107.00 320.00 L107.70 320.00 L108.40 320.00 L109.10 320.00 L109.80 320.00 L110.50 320.00 L111.20 320.00 L111.90 320.00 L112.60 320.00 L113.30 320.00 L114.00 320.00 L114.70 320.00 L115.40 320.00 L116.10 320.00 L116.80 320.00 L117.50 320.00 L118.20 320.00 L118.90 320.00 L119.60 320.00 L120.30 320.00 L121.00 320.00 L121.70 320.00 L122.40 320.00 L123.10 320.00 L123.80 320.00 L124.50 320.00 L125.20 320.00 L125.90 320.00 L126.60 320.00 L127.30 320.00 L128.00 320.00 L128.70 320.00 L129.40 320.00 L130.10 320.00 L130.80 320.00 L131.50 320.00 L132.20 320.00 L132.90 320.00 L133.60 320.00 L134.30 320.00 L135.00 320.00 L135.70 320.00 L136.40 320.00 L137.10 320.00 L137.80 320.00 L138.50 320.00 L139.20 320.00 L139.90 320.00 L140.60 320.01 L141.30 320.07 L142.00 320.15 L142.70 320.27 L143.40 320.42 L144.10 320.59 L144.80 320.78 L145.50 320.99 L146.20 321.21 L146.90 321.44 L147.60 321.68 L148.30 321.93 L149.00 322.18 L149.70 322.42 L150.40 322.66 L151.10 322.89 L151.80 323.11 L152.50 323.31 L153.20 323.49 L153.90 323.65 L154.60 323.78 L155.30 323.89 L156.00 323.96 L156.70 324.00 L157.40 323.96 L158.10 323.68 L158.80 323.17 L159.50 322.46 L160.20 321.57 L160.90 320.53 L161.60 319.36 L162.30 318.09 L163.00 316.75 L163.70 315.36 L164.40 313.95 L165.10 312.54 L165.80 311.17 L166.50 309.86 L167.20 308.63 L167.90 307.51 L168.60 306.53 L169.30 305.71 L170.00 305.08 L170.70 304.67 L171.40 304.50 L172.10 304.84 L172.80 306.04 L173.50 307.97 L174.20 310.50 L174.90 313.50 L175.60 316.85 L176.30 320.41 L177.00 324.05 L177.70 327.65 L178.40 331.07 L179.10 334.19 L179.80 336.86 L180.50 338.98 L181.20 340.40 L181.90 340.99 L182.60 340.59 L183.30 339.18 L184.00 336.95 L184.70 334.08 L185.40 330.76 L186.10 327.17 L186.80 323.51 L187.50 319.95 L188.20 316.68 L188.90 313.89 L189.60 311.76 L190.30 310.49 L191.00 310.22 L191.70 310.54 L192.40 311.21 L193.10 312.16 L193.80 313.32 L194.50 314.62 L195.20 316.00 L195.90 317.38 L196.60 318.70 L197.30 319.89 L198.00 320.87 L198.70 321.59 L199.40 321.96 L200.10 321.98 L200.80 321.83 L201.50 321.57 L202.20 321.24 L202.90 320.86 L203.60 320.46 L204.30 320.07 L205.00 319.72 L205.70 319.43 L206.40 319.25 L207.10 319.20 L207.80 319.27 L208.50 319.44 L209.20 319.67 L209.90 319.95 L210.60 320.24 L211.30 320.54 L212.00 320.80 L212.70 321.02 L213.40 321.16 L214.10 321.20 L214.80 321.18 L215.50 321.13 L216.20 321.05 L216.90 320.96 L217.60 320.85 L218.30 320.73 L219.00 320.60 L219.70 320.47 L220.40 320.35 L221.10 320.24 L221.80 320.15 L222.50 320.07 L223.20 320.02 L223.90 320.00 L224.60 320.01 L225.30 320.04 L226.00 320.09 L226.70 320.15 L227.40 320.23 L228.10 320.32 L228.80 320.42 L229.50 320.53 L230.20 320.63 L230.90 320.73 L231.60 320.83 L232.30 320.93 L233.00 321.01 L233.70 321.08 L234.40 321.14 L235.10 321.18 L235.80 321.20 L236.50 321.20 L237.20 321.18 L237.90 321.15 L238.60 321.11 L239.30 321.06 L240.00 320.99 L240.70 320.91 L241.40 320.82 L242.10 320.72 L242.80 320.60 L243.50 320.48 L244.20 320.34 L244.90 320.20 L245.60 320.04 L246.30 319.87 L247.00 319.70 L247.70 319.51 L248.40 319.31 L249.10 319.11 L249.80 318.89 L250.50 318.67 L251.00 318.50" fill="none" stroke="#dc1a2c" stroke-width="1.70" stroke-dasharray="7 1.6" stroke-linejoin="round"/>
<text x="89.80" y="257.30" font-size="9.50" fill="#d8904e" font-weight="normal" text-anchor="start" textLength="47.00" lengthAdjust="spacingAndGlyphs">51.75/0.47</text>
<text x="90.70" y="284.70" font-size="9.50" fill="#d8904e" font-weight="normal" text-anchor="start" textLength="46.10" lengthAdjust="spacingAndGlyphs">17.71/0.47</text>
<text x="89.80" y="312.20" font-size="9.50" fill="#d8904e" font-weight="normal" text-anchor="start" textLength="47.00" lengthAdjust="spacingAndGlyphs">51.75/0.47</text>
<text x="254.80" y="264.60" font-size="11.50" fill="#000" font-weight="bold" text-anchor="start">Z</text>
<text x="255.60" y="287.70" font-size="11.50" fill="#000" font-weight="bold" text-anchor="start">R</text>
<text x="252.70" y="318.60" font-size="11.50" fill="#000" font-weight="bold" text-anchor="start">T</text>
<text x="53.90" y="417.00" font-size="12.00" fill="#000" font-weight="normal" text-anchor="start" textLength="194.90" lengthAdjust="spacingAndGlyphs">CCUT.UU(D) R=70.4 km Az=70 ts=0</text>
<path d="M79.10 431.20 V522.60 M75.4 432.00 H79.10 M75.4 477.00 H79.10 M75.4 521.80 H79.10" stroke="#000" stroke-width="1.6" fill="none"/>
<text x="73.20" y="435.70" font-size="11.90" fill="#000" font-weight="normal" text-anchor="end">4.6</text>
<text x="73.20" y="525.60" font-size="11.90" fill="#000" font-weight="normal" text-anchor="end">0.0</text>
<text transform="translate(55.20 513.10) rotate(-90)" font-size="11" textLength="72.70" lengthAdjust="spacingAndGlyphs">DISP (microns)</text>
<path d="M89.30 533.00 H256.00 M90.10 533.00 V536.60M106.61 533.00 V536.60M123.12 533.00 V536.60M139.63 533.00 V536.60M156.14 533.00 V536.60M172.65 533.00 V536.60M189.16 533.00 V536.60M205.67 533.00 V536.60M222.18 533.00 V536.60M238.69 533.00 V536.60M255.20 533.00 V536.60" stroke="#000" stroke-width="1.6" fill="none"/>
<text x="90.10" y="546.80" font-size="11.90" fill="#000" font-weight="normal" text-anchor="middle">0</text>
<text x="123.12" y="546.80" font-size="11.90" fill="#000" font-weight="normal" text-anchor="middle">10</text>
<text x="156.14" y="546.80" font-size="11.90" fill="#000" font-weight="normal" text-anchor="middle">20</text>
<text x="189.16" y="546.80" font-size="11.90" fill="#000" font-weight="normal" text-anchor="middle">30</text>
<text x="222.18" y="546.80" font-size="11.90" fill="#000" font-weight="normal" text-anchor="middle">40</text>
<text x="255.20" y="546.80" font-size="11.90" fill="#000" font-weight="normal" text-anchor="middle">50</text>
<text x="86.50" y="558.30" font-size="11.20" fill="#000" font-weight="normal" text-anchor="start" textLength="173.00" lengthAdjust="spacingAndGlyphs">reduced travel time [T-R/18.0] (sec)</text>
<path d="M89.50 444.70 L90.20 444.40 L90.90 444.13 L91.60 443.88 L92.30 443.64 L93.00 443.43 L93.70 443.24 L94.40 443.07 L95.10 442.91 L95.80 442.78 L96.50 442.65 L97.20 442.54 L97.90 442.45 L98.60 442.37 L99.30 442.30 L100.00 442.25 L100.70 442.20 L101.40 442.16 L102.10 442.14 L102.80 442.12 L103.50 442.11 L104.20 442.10 L104.90 442.11 L105.60 442.16 L106.30 442.28 L107.00 442.46 L107.70 442.68 L108.40 442.95 L109.10 443.27 L109.80 443.62 L110.50 444.01 L111.20 444.43 L111.90 444.88 L112.60 445.35 L113.30 445.84 L114.00 446.35 L114.70 446.86 L115.40 447.39 L116.10 447.91 L116.80 448.44 L117.50 448.96 L118.20 449.47 L118.90 449.97 L119.60 450.45 L120.30 450.92 L121.00 451.35 L121.70 451.76 L122.40 452.14 L123.10 452.47 L123.80 452.77 L124.50 453.02 L125.20 453.23 L125.90 453.38 L126.60 453.47 L127.30 453.50 L128.00 453.46 L128.70 453.33 L129.40 453.13 L130.10 452.86 L130.80 452.52 L131.50 452.11 L132.20 451.64 L132.90 451.12 L133.60 450.54 L134.30 449.91 L135.00 449.24 L135.70 448.53 L136.40 447.79 L137.10 447.01 L137.80 446.20 L138.50 445.37 L139.20 444.52 L139.90 443.66 L140.60 442.78 L141.30 441.90 L142.00 441.01 L142.70 440.12 L143.40 439.24 L144.10 438.37 L144.80 437.51 L145.50 436.67 L146.20 435.85 L146.90 435.05 L147.60 434.29 L148.30 433.56 L149.00 432.86 L149.70 432.21 L150.40 431.61 L151.10 431.05 L151.80 430.55 L152.50 430.11 L153.20 429.73 L153.90 429.41 L154.60 429.17 L155.30 429.00 L156.00 428.91 L156.70 428.91 L157.40 429.01 L158.10 429.21 L158.80 429.51 L159.50 429.90 L160.20 430.38 L160.90 430.94 L161.60 431.57 L162.30 432.28 L163.00 433.05 L163.70 433.87 L164.40 434.75 L165.10 435.68 L165.80 436.65 L166.50 437.65 L167.20 438.69 L167.90 439.75 L168.60 440.83 L169.30 441.93 L170.00 443.04 L170.70 444.15 L171.40 445.25 L172.10 446.35 L172.80 447.44 L173.50 448.51 L174.20 449.55 L174.90 450.57 L175.60 451.55 L176.30 452.49 L177.00 453.38 L177.70 454.22 L178.40 455.01 L179.10 455.73 L179.80 456.39 L180.50 456.97 L181.20 457.47 L181.90 457.88 L182.60 458.21 L183.30 458.44 L184.00 458.57 L184.70 458.60 L185.40 458.53 L186.10 458.37 L186.80 458.13 L187.50 457.82 L188.20 457.44 L188.90 456.99 L189.60 456.47 L190.30 455.90 L191.00 455.28 L191.70 454.60 L192.40 453.89 L193.10 453.13 L193.80 452.34 L194.50 451.52 L195.20 450.67 L195.90 449.80 L196.60 448.92 L197.30 448.02 L198.00 447.12 L198.70 446.21 L199.40 445.31 L200.10 444.41 L200.80 443.52 L201.50 442.65 L202.20 441.80 L202.90 440.98 L203.60 440.18 L204.30 439.42 L205.00 438.70 L205.70 438.02 L206.40 437.38 L207.10 436.80 L207.80 436.28 L208.50 435.82 L209.20 435.43 L209.90 435.11 L210.60 434.86 L211.30 434.69 L212.00 434.61 L212.70 434.61 L213.40 434.65 L214.10 434.73 L214.80 434.86 L215.50 435.02 L216.20 435.23 L216.90 435.47 L217.60 435.75 L218.30 436.07 L219.00 436.42 L219.70 436.81 L220.40 437.24 L221.10 437.71 L221.80 438.21 L222.50 438.75 L223.20 439.33 L223.90 439.93 L224.60 440.58 L225.30 441.25 L226.00 441.97 L226.70 442.71 L227.40 443.49 L228.10 444.30 L228.80 445.14 L229.50 446.02 L230.20 446.92 L230.90 447.86 L231.60 448.83 L232.30 449.82 L233.00 450.85 L233.10 451.00" fill="none" stroke="#141414" stroke-width="1.15" stroke-linejoin="round"/>
<path d="M89.50 444.70 L90.20 444.70 L90.90 444.70 L91.60 444.70 L92.30 444.71 L93.00 444.71 L93.70 444.71 L94.40 444.72 L95.10 444.72 L95.80 444.73 L96.50 444.74 L97.20 444.74 L97.90 444.75 L98.60 444.76 L99.30 444.77 L100.00 444.78 L100.70 444.79 L101.40 444.80 L102.10 444.82 L102.80 444.83 L103.50 444.84 L104.20 444.86 L104.90 444.87 L105.60 444.89 L106.30 444.90 L107.00 444.92 L107.70 444.94 L108.40 444.96 L109.10 444.97 L109.80 444.99 L110.50 445.03 L111.20 445.15 L111.90 445.33 L112.60 445.57 L113.30 445.87 L114.00 446.23 L114.70 446.63 L115.40 447.07 L116.10 447.55 L116.80 448.06 L117.50 448.59 L118.20 449.15 L118.90 449.71 L119.60 450.28 L120.30 450.86 L121.00 451.43 L121.70 451.99 L122.40 452.54 L123.10 453.07 L123.80 453.57 L124.50 454.04 L125.20 454.47 L125.90 454.86 L126.60 455.21 L127.30 455.49 L128.00 455.72 L128.70 455.89 L129.40 455.98 L130.10 455.99 L130.80 455.88 L131.50 455.64 L132.20 455.26 L132.90 454.77 L133.60 454.16 L134.30 453.45 L135.00 452.65 L135.70 451.76 L136.40 450.79 L137.10 449.76 L137.80 448.65 L138.50 447.50 L139.20 446.30 L139.90 445.06 L140.60 443.79 L141.30 442.49 L142.00 441.19 L142.70 439.88 L143.40 438.57 L144.10 437.27 L144.80 435.99 L145.50 434.73 L146.20 433.51 L146.90 432.34 L147.60 431.21 L148.30 430.14 L149.00 429.14 L149.70 428.22 L150.40 427.38 L151.10 426.63 L151.80 425.98 L152.50 425.44 L153.20 425.01 L153.90 424.71 L154.60 424.54 L155.30 424.51 L156.00 424.62 L156.70 424.86 L157.40 425.23 L158.10 425.72 L158.80 426.31 L159.50 427.01 L160.20 427.80 L160.90 428.66 L161.60 429.61 L162.30 430.62 L163.00 431.68 L163.70 432.80 L164.40 433.95 L165.10 435.13 L165.80 436.34 L166.50 437.56 L167.20 438.79 L167.90 440.01 L168.60 441.22 L169.30 442.42 L170.00 443.58 L170.70 444.70 L171.40 445.78 L172.10 446.81 L172.80 447.77 L173.50 448.66 L174.20 449.47 L174.90 450.20 L175.60 450.82 L176.30 451.34 L177.00 451.74 L177.70 452.03 L178.40 452.18 L179.10 452.19 L179.80 452.14 L180.50 452.04 L181.20 451.89 L181.90 451.70 L182.60 451.46 L183.30 451.19 L184.00 450.88 L184.70 450.55 L185.40 450.18 L186.10 449.79 L186.80 449.39 L187.50 448.96 L188.20 448.52 L188.90 448.08 L189.60 447.63 L190.30 447.17 L191.00 446.72 L191.70 446.27 L192.40 445.82 L193.10 445.39 L193.80 444.98 L194.50 444.58 L195.20 444.21 L195.90 443.86 L196.60 443.54 L197.30 443.25 L198.00 443.00 L198.70 442.79 L199.40 442.62 L200.10 442.49 L200.80 442.42 L201.50 442.40 L202.20 442.41 L202.90 442.43 L203.60 442.46 L204.30 442.50 L205.00 442.55 L205.70 442.61 L206.40 442.68 L207.10 442.75 L207.80 442.83 L208.50 442.91 L209.20 443.00 L209.90 443.09 L210.60 443.19 L211.30 443.28 L212.00 443.38 L212.70 443.47 L213.40 443.57 L214.10 443.66 L214.80 443.75 L215.50 443.83 L216.20 443.92 L216.90 443.99 L217.60 444.06 L218.30 444.13 L219.00 444.20 L219.70 444.27 L220.40 444.34 L221.10 444.41 L221.80 444.48 L222.50 444.55 L223.20 444.62 L223.90 444.69 L224.60 444.76 L225.30 444.83 L226.00 444.90 L226.70 444.97 L227.40 445.04 L228.10 445.11 L228.80 445.18 L229.50 445.25 L230.20 445.32 L230.90 445.38 L231.60 445.45 L232.30 445.52 L233.00 445.59 L233.10 445.60" fill="none" stroke="#dc1a2c" stroke-width="1.70" stroke-dasharray="7 1.6" stroke-linejoin="round"/>
<path d="M89.50 473.00 L90.20 472.77 L90.90 472.56 L91.60 472.37 L92.30 472.20 L93.00 472.05 L93.70 471.91 L94.40 471.79 L95.10 471.68 L95.80 471.59 L96.50 471.51 L97.20 471.44 L97.90 471.38 L98.60 471.34 L99.30 471.30 L100.00 471.27 L100.70 471.24 L101.40 471.23 L102.10 471.21 L102.80 471.21 L103.50 471.20 L104.20 471.20 L104.90 471.20 L105.60 471.21 L106.30 471.32 L107.00 471.55 L107.70 471.88 L108.40 472.31 L109.10 472.83 L109.80 473.42 L110.50 474.08 L111.20 474.80 L111.90 475.56 L112.60 476.37 L113.30 477.22 L114.00 478.08 L114.70 478.96 L115.40 479.84 L116.10 480.72 L116.80 481.58 L117.50 482.43 L118.20 483.24 L118.90 484.00 L119.60 484.72 L120.30 485.38 L121.00 485.97 L121.70 486.49 L122.40 486.92 L123.10 487.25 L123.80 487.48 L124.50 487.59 L125.20 487.59 L125.90 487.51 L126.60 487.36 L127.30 487.15 L128.00 486.87 L128.70 486.54 L129.40 486.15 L130.10 485.72 L130.80 485.23 L131.50 484.70 L132.20 484.13 L132.90 483.53 L133.60 482.89 L134.30 482.23 L135.00 481.54 L135.70 480.83 L136.40 480.10 L137.10 479.35 L137.80 478.60 L138.50 477.84 L139.20 477.08 L139.90 476.32 L140.60 475.57 L141.30 474.82 L142.00 474.08 L142.70 473.37 L143.40 472.67 L144.10 471.99 L144.80 471.34 L145.50 470.72 L146.20 470.14 L146.90 469.59 L147.60 469.09 L148.30 468.63 L149.00 468.22 L149.70 467.86 L150.40 467.56 L151.10 467.32 L151.80 467.15 L152.50 467.04 L153.20 467.00 L153.90 467.04 L154.60 467.15 L155.30 467.33 L156.00 467.57 L156.70 467.88 L157.40 468.23 L158.10 468.64 L158.80 469.08 L159.50 469.57 L160.20 470.09 L160.90 470.63 L161.60 471.20 L162.30 471.79 L163.00 472.39 L163.70 473.00 L164.40 473.61 L165.10 474.22 L165.80 474.82 L166.50 475.41 L167.20 475.99 L167.90 476.54 L168.60 477.06 L169.30 477.55 L170.00 478.00 L170.70 478.41 L171.40 478.78 L172.10 479.09 L172.80 479.34 L173.50 479.53 L174.20 479.65 L174.90 479.70 L175.60 479.67 L176.30 479.57 L177.00 479.41 L177.70 479.18 L178.40 478.89 L179.10 478.54 L179.80 478.14 L180.50 477.70 L181.20 477.21 L181.90 476.68 L182.60 476.11 L183.30 475.51 L184.00 474.89 L184.70 474.23 L185.40 473.56 L186.10 472.88 L186.80 472.17 L187.50 471.47 L188.20 470.75 L188.90 470.04 L189.60 469.33 L190.30 468.62 L191.00 467.93 L191.70 467.26 L192.40 466.60 L193.10 465.96 L193.80 465.36 L194.50 464.78 L195.20 464.24 L195.90 463.74 L196.60 463.28 L197.30 462.87 L198.00 462.50 L198.70 462.20 L199.40 461.95 L200.10 461.77 L200.80 461.65 L201.50 461.60 L202.20 461.63 L202.90 461.73 L203.60 461.89 L204.30 462.13 L205.00 462.42 L205.70 462.77 L206.40 463.17 L207.10 463.62 L207.80 464.12 L208.50 464.66 L209.20 465.24 L209.90 465.85 L210.60 466.49 L211.30 467.16 L212.00 467.85 L212.70 468.55 L213.40 469.28 L214.10 470.01 L214.80 470.76 L215.50 471.50 L216.20 472.25 L216.90 472.99 L217.60 473.73 L218.30 474.45 L219.00 475.15 L219.70 475.84 L220.40 476.51 L221.10 477.14 L221.80 477.75 L222.50 478.32 L223.20 478.85 L223.90 479.35 L224.60 479.79 L225.30 480.19 L226.00 480.53 L226.70 480.81 L227.40 481.03 L228.10 481.19 L228.80 481.28 L229.50 481.30 L230.20 481.29 L230.90 481.25 L231.60 481.20 L232.30 481.12 L233.00 481.02 L233.10 481.00" fill="none" stroke="#141414" stroke-width="1.15" stroke-linejoin="round"/>
<path d="M89.50 471.70 L90.20 471.54 L90.90 471.40 L91.60 471.27 L92.30 471.16 L93.00 471.06 L93.70 470.97 L94.40 470.90 L95.10 470.83 L95.80 470.77 L96.50 470.73 L97.20 470.69 L97.90 470.66 L98.60 470.64 L99.30 470.62 L100.00 470.61 L100.70 470.60 L101.40 470.60 L102.10 470.61 L102.80 470.67 L103.50 470.76 L104.20 470.88 L104.90 471.04 L105.60 471.23 L106.30 471.44 L107.00 471.69 L107.70 471.96 L108.40 472.25 L109.10 472.57 L109.80 472.90 L110.50 473.25 L111.20 473.62 L111.90 474.00 L112.60 474.40 L113.30 474.80 L114.00 475.21 L114.70 475.63 L115.40 476.05 L116.10 476.48 L116.80 476.90 L117.50 477.33 L118.20 477.75 L118.90 478.16 L119.60 478.57 L120.30 478.97 L121.00 479.36 L121.70 479.74 L122.40 480.10 L123.10 480.44 L123.80 480.77 L124.50 481.08 L125.20 481.36 L125.90 481.62 L126.60 481.85 L127.30 482.06 L128.00 482.23 L128.70 482.38 L129.40 482.49 L130.10 482.56 L130.80 482.60 L131.50 482.58 L132.20 482.48 L132.90 482.28 L133.60 482.01 L134.30 481.65 L135.00 481.22 L135.70 480.73 L136.40 480.18 L137.10 479.58 L137.80 478.93 L138.50 478.25 L139.20 477.53 L139.90 476.79 L140.60 476.03 L141.30 475.26 L142.00 474.48 L142.70 473.71 L143.40 472.94 L144.10 472.19 L144.80 471.46 L145.50 470.76 L146.20 470.09 L146.90 469.46 L147.60 468.88 L148.30 468.35 L149.00 467.89 L149.70 467.49 L150.40 467.17 L151.10 466.92 L151.80 466.76 L152.50 466.70 L153.20 466.73 L153.90 466.84 L154.60 467.02 L155.30 467.27 L156.00 467.57 L156.70 467.92 L157.40 468.31 L158.10 468.74 L158.80 469.19 L159.50 469.66 L160.20 470.14 L160.90 470.63 L161.60 471.11 L162.30 471.58 L163.00 472.02 L163.70 472.45 L164.40 472.83 L165.10 473.18 L165.80 473.47 L166.50 473.71 L167.20 473.88 L167.90 473.98 L168.60 474.00 L169.30 473.98 L170.00 473.95 L170.70 473.90 L171.40 473.83 L172.10 473.75 L172.80 473.65 L173.50 473.55 L174.20 473.43 L174.90 473.30 L175.60 473.17 L176.30 473.03 L177.00 472.88 L177.70 472.73 L178.40 472.58 L179.10 472.43 L179.80 472.27 L180.50 472.12 L181.20 471.97 L181.90 471.83 L182.60 471.69 L183.30 471.56 L184.00 471.43 L184.70 471.32 L185.40 471.22 L186.10 471.13 L186.80 471.05 L187.50 470.99 L188.20 470.94 L188.90 470.91 L189.60 470.90 L190.30 470.90 L191.00 470.91 L191.70 470.93 L192.40 470.95 L193.10 470.98 L193.80 471.01 L194.50 471.04 L195.20 471.09 L195.90 471.13 L196.60 471.18 L197.30 471.23 L198.00 471.29 L198.70 471.35 L199.40 471.41 L200.10 471.47 L200.80 471.54 L201.50 471.60 L202.20 471.67 L202.90 471.74 L203.60 471.81 L204.30 471.88 L205.00 471.95 L205.70 472.03 L206.40 472.10 L207.10 472.16 L207.80 472.23 L208.50 472.30 L209.20 472.36 L209.90 472.43 L210.60 472.49 L211.30 472.55 L212.00 472.60 L212.70 472.65 L213.40 472.71 L214.10 472.76 L214.80 472.81 L215.50 472.87 L216.20 472.92 L216.90 472.97 L217.60 473.02 L218.30 473.08 L219.00 473.13 L219.70 473.18 L220.40 473.24 L221.10 473.29 L221.80 473.34 L222.50 473.40 L223.20 473.45 L223.90 473.50 L224.60 473.56 L225.30 473.61 L226.00 473.66 L226.70 473.71 L227.40 473.77 L228.10 473.82 L228.80 473.87 L229.50 473.93 L230.20 473.98 L230.90 474.03 L231.60 474.09 L232.30 474.14 L233.00 474.19 L233.10 474.20" fill="none" stroke="#dc1a2c" stroke-width="1.70" stroke-dasharray="7 1.6" stroke-linejoin="round"/>
<path d="M89.50 508.00 L90.20 507.57 L90.90 507.16 L91.60 506.79 L92.30 506.44 L93.00 506.12 L93.70 505.82 L94.40 505.55 L95.10 505.31 L95.80 505.08 L96.50 504.88 L97.20 504.70 L97.90 504.54 L98.60 504.40 L99.30 504.27 L100.00 504.16 L100.70 504.06 L101.40 503.98 L102.10 503.91 L102.80 503.86 L103.50 503.81 L104.20 503.78 L104.90 503.75 L105.60 503.73 L106.30 503.71 L107.00 503.71 L107.70 503.70 L108.40 503.70 L109.10 503.74 L109.80 503.87 L110.50 504.08 L111.20 504.36 L111.90 504.71 L112.60 505.11 L113.30 505.58 L114.00 506.09 L114.70 506.64 L115.40 507.24 L116.10 507.86 L116.80 508.51 L117.50 509.18 L118.20 509.86 L118.90 510.55 L119.60 511.25 L120.30 511.93 L121.00 512.61 L121.70 513.28 L122.40 513.92 L123.10 514.54 L123.80 515.12 L124.50 515.66 L125.20 516.16 L125.90 516.61 L126.60 517.00 L127.30 517.33 L128.00 517.59 L128.70 517.77 L129.40 517.88 L130.10 517.89 L130.80 517.79 L131.50 517.55 L132.20 517.20 L132.90 516.73 L133.60 516.16 L134.30 515.49 L135.00 514.74 L135.70 513.90 L136.40 513.00 L137.10 512.02 L137.80 511.00 L138.50 509.93 L139.20 508.81 L139.90 507.67 L140.60 506.50 L141.30 505.32 L142.00 504.13 L142.70 502.94 L143.40 501.76 L144.10 500.60 L144.80 499.47 L145.50 498.36 L146.20 497.30 L146.90 496.29 L147.60 495.34 L148.30 494.45 L149.00 493.64 L149.70 492.91 L150.40 492.27 L151.10 491.72 L151.80 491.29 L152.50 490.97 L153.20 490.77 L153.90 490.70 L154.60 490.78 L155.30 491.01 L156.00 491.38 L156.70 491.88 L157.40 492.51 L158.10 493.25 L158.80 494.09 L159.50 495.03 L160.20 496.05 L160.90 497.15 L161.60 498.32 L162.30 499.54 L163.00 500.80 L163.70 502.11 L164.40 503.44 L165.10 504.79 L165.80 506.15 L166.50 507.51 L167.20 508.85 L167.90 510.18 L168.60 511.48 L169.30 512.74 L170.00 513.95 L170.70 515.11 L171.40 516.20 L172.10 517.21 L172.80 518.13 L173.50 518.96 L174.20 519.69 L174.90 520.30 L175.60 520.78 L176.30 521.13 L177.00 521.34 L177.70 521.40 L178.40 521.35 L179.10 521.23 L179.80 521.03 L180.50 520.78 L181.20 520.46 L181.90 520.08 L182.60 519.66 L183.30 519.19 L184.00 518.68 L184.70 518.12 L185.40 517.54 L186.10 516.93 L186.80 516.29 L187.50 515.64 L188.20 514.96 L188.90 514.28 L189.60 513.60 L190.30 512.91 L191.00 512.22 L191.70 511.55 L192.40 510.88 L193.10 510.23 L193.80 509.61 L194.50 509.01 L195.20 508.44 L195.90 507.90 L196.60 507.40 L197.30 506.95 L198.00 506.55 L198.70 506.20 L199.40 505.91 L200.10 505.68 L200.80 505.51 L201.50 505.42 L202.20 505.40 L202.90 505.41 L203.60 505.43 L204.30 505.45 L205.00 505.49 L205.70 505.53 L206.40 505.58 L207.10 505.63 L207.80 505.69 L208.50 505.76 L209.20 505.83 L209.90 505.90 L210.60 505.98 L211.30 506.06 L212.00 506.14 L212.70 506.22 L213.40 506.30 L214.10 506.38 L214.80 506.46 L215.50 506.54 L216.20 506.62 L216.90 506.69 L217.60 506.76 L218.30 506.83 L219.00 506.89 L219.70 506.96 L220.40 507.03 L221.10 507.09 L221.80 507.16 L222.50 507.23 L223.20 507.30 L223.90 507.36 L224.60 507.43 L225.30 507.50 L226.00 507.57 L226.70 507.64 L227.40 507.71 L228.10 507.78 L228.80 507.85 L229.50 507.93 L230.20 508.00 L230.90 508.07 L231.60 508.14 L232.30 508.22 L233.00 508.29 L233.10 508.30" fill="none" stroke="#141414" stroke-width="1.15" stroke-linejoin="round"/>
<path d="M89.50 508.40 L90.20 508.11 L90.90 507.85 L91.60 507.60 L92.30 507.37 L93.00 507.16 L93.70 506.97 L94.40 506.80 L95.10 506.64 L95.80 506.50 L96.50 506.38 L97.20 506.27 L97.90 506.18 L98.60 506.10 L99.30 506.04 L100.00 505.98 L100.70 505.95 L101.40 505.92 L102.10 505.90 L102.80 505.90 L103.50 505.94 L104.20 506.03 L104.90 506.17 L105.60 506.36 L106.30 506.59 L107.00 506.87 L107.70 507.19 L108.40 507.54 L109.10 507.92 L109.80 508.33 L110.50 508.77 L111.20 509.23 L111.90 509.71 L112.60 510.21 L113.30 510.72 L114.00 511.25 L114.70 511.78 L115.40 512.31 L116.10 512.84 L116.80 513.38 L117.50 513.90 L118.20 514.42 L118.90 514.93 L119.60 515.43 L120.30 515.90 L121.00 516.36 L121.70 516.79 L122.40 517.19 L123.10 517.57 L123.80 517.91 L124.50 518.21 L125.20 518.48 L125.90 518.70 L126.60 518.88 L127.30 519.00 L128.00 519.08 L128.70 519.10 L129.40 519.02 L130.10 518.81 L130.80 518.49 L131.50 518.07 L132.20 517.54 L132.90 516.92 L133.60 516.21 L134.30 515.42 L135.00 514.57 L135.70 513.65 L136.40 512.67 L137.10 511.64 L137.80 510.57 L138.50 509.46 L139.20 508.32 L139.90 507.16 L140.60 505.99 L141.30 504.82 L142.00 503.64 L142.70 502.47 L143.40 501.31 L144.10 500.18 L144.80 499.08 L145.50 498.01 L146.20 496.99 L146.90 496.02 L147.60 495.11 L148.30 494.26 L149.00 493.48 L149.70 492.79 L150.40 492.18 L151.10 491.67 L151.80 491.25 L152.50 490.95 L153.20 490.76 L153.90 490.70 L154.60 490.76 L155.30 490.95 L156.00 491.26 L156.70 491.67 L157.40 492.19 L158.10 492.80 L158.80 493.50 L159.50 494.27 L160.20 495.12 L160.90 496.03 L161.60 497.00 L162.30 498.01 L163.00 499.07 L163.70 500.15 L164.40 501.27 L165.10 502.40 L165.80 503.54 L166.50 504.69 L167.20 505.83 L167.90 506.95 L168.60 508.06 L169.30 509.14 L170.00 510.18 L170.70 511.19 L171.40 512.14 L172.10 513.03 L172.80 513.86 L173.50 514.61 L174.20 515.28 L174.90 515.87 L175.60 516.35 L176.30 516.74 L177.00 517.01 L177.70 517.17 L178.40 517.20 L179.10 517.15 L179.80 517.04 L180.50 516.88 L181.20 516.67 L181.90 516.42 L182.60 516.12 L183.30 515.78 L184.00 515.41 L184.70 515.01 L185.40 514.58 L186.10 514.13 L186.80 513.67 L187.50 513.19 L188.20 512.70 L188.90 512.20 L189.60 511.70 L190.30 511.20 L191.00 510.71 L191.70 510.23 L192.40 509.77 L193.10 509.32 L193.80 508.89 L194.50 508.49 L195.20 508.12 L195.90 507.78 L196.60 507.48 L197.30 507.23 L198.00 507.02 L198.70 506.86 L199.40 506.75 L200.10 506.70 L200.80 506.70 L201.50 506.71 L202.20 506.73 L202.90 506.76 L203.60 506.79 L204.30 506.83 L205.00 506.87 L205.70 506.92 L206.40 506.98 L207.10 507.03 L207.80 507.09 L208.50 507.16 L209.20 507.22 L209.90 507.29 L210.60 507.35 L211.30 507.42 L212.00 507.48 L212.70 507.54 L213.40 507.60 L214.10 507.66 L214.80 507.72 L215.50 507.77 L216.20 507.81 L216.90 507.86 L217.60 507.90 L218.30 507.95 L219.00 507.99 L219.70 508.03 L220.40 508.08 L221.10 508.12 L221.80 508.16 L222.50 508.20 L223.20 508.24 L223.90 508.29 L224.60 508.33 L225.30 508.37 L226.00 508.41 L226.70 508.45 L227.40 508.49 L228.10 508.53 L228.80 508.57 L229.50 508.61 L230.20 508.64 L230.90 508.68 L231.60 508.72 L232.30 508.76 L233.00 508.79 L233.10 508.80" fill="none" stroke="#dc1a2c" stroke-width="1.70" stroke-dasharray="7 1.6" stroke-linejoin="round"/>
<text x="89.90" y="436.60" font-size="9.50" fill="#d8904e" font-weight="normal" text-anchor="start" textLength="41.00" lengthAdjust="spacingAndGlyphs">0.51/0.83</text>
<text x="89.90" y="467.30" font-size="9.50" fill="#d8904e" font-weight="normal" text-anchor="start" textLength="27.30" lengthAdjust="spacingAndGlyphs">0.0.83</text>
<text x="89.90" y="499.60" font-size="9.50" fill="#d8904e" font-weight="normal" text-anchor="start" textLength="41.00" lengthAdjust="spacingAndGlyphs">0.51/0.83</text>
<text x="236.30" y="450.40" font-size="11.50" fill="#000" font-weight="bold" text-anchor="start">Z</text>
<text x="236.30" y="480.30" font-size="11.50" fill="#000" font-weight="bold" text-anchor="start">R</text>
<text x="233.10" y="508.40" font-size="11.50" fill="#000" font-weight="bold" text-anchor="start">T</text>
</svg>
</body></html>
